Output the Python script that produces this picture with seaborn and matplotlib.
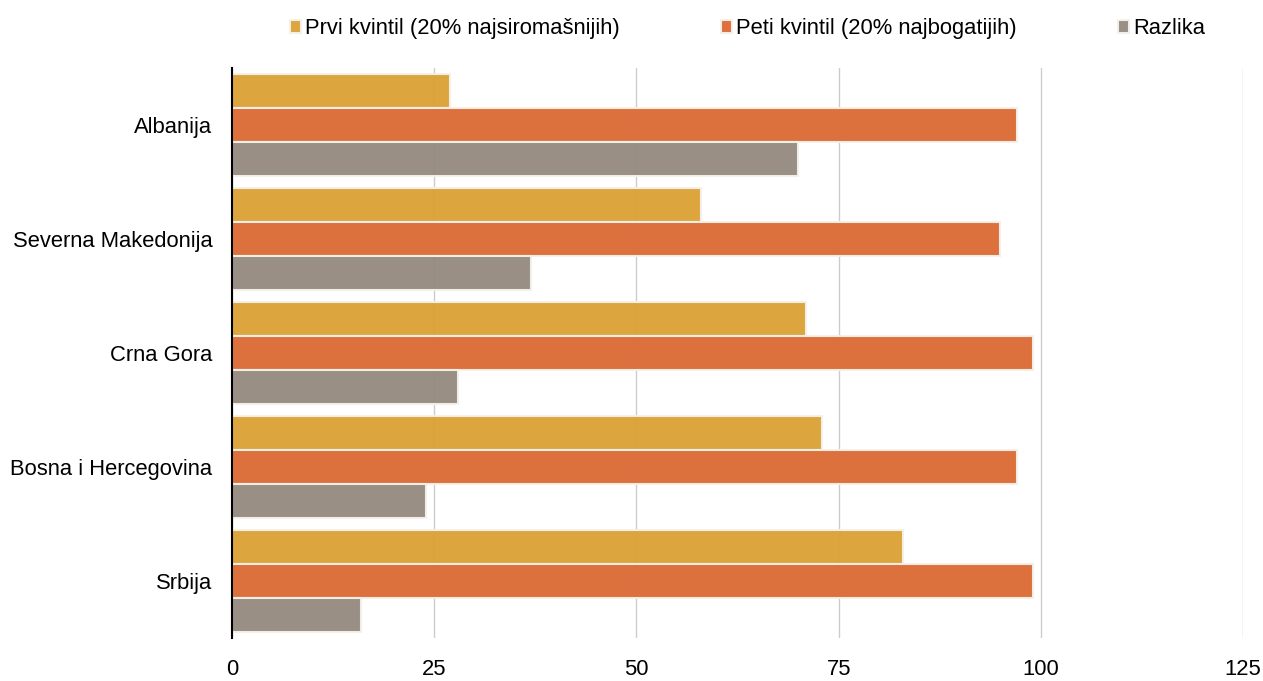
import matplotlib
matplotlib.use("Agg")
import pandas as pd
import seaborn as sns
import matplotlib.pyplot as plt

countries = ["Albanija", "Severna Makedonija", "Crna Gora", "Bosna i Hercegovina", "Srbija"]
series = ["Prvi kvintil (20% najsiromašnijih)", "Peti kvintil (20% najbogatijih)", "Razlika"]
prvi = [27, 58, 71, 73, 83]
peti = [97, 95, 99, 97, 99]
razlika = [70, 37, 28, 24, 16]
colors = ["#DBA237", "#DC6C38", "#968B80"]

sns.set_theme(style="white")
plt.rcParams['font.family'] = ['Liberation Sans', 'DejaVu Sans']

df = pd.DataFrame({
    "country": countries * 3,
    "serija": [series[0]] * 5 + [series[1]] * 5 + [series[2]] * 5,
    "value": prvi + peti + razlika,
})

fig = plt.figure(figsize=(12.63, 6.81), dpi=100)
ax = fig.add_axes([0.1837, 0.0631, 0.8005, 0.8369])

sns.barplot(data=df, x="value", y="country", hue="serija", hue_order=series,
            order=countries, palette=colors, saturation=1, orient="h", width=0.9,
            edgecolor="#f4f0ea", linewidth=1.5, alpha=0.97, ax=ax, zorder=2)

ax.set_xlim(0, 125)
ax.set_xticks([0, 25, 50, 75, 100, 125])
ax.xaxis.grid(True, color="#cccccc", linewidth=1, zorder=0)
ax.set_axisbelow(True)
for s in ["top", "right", "bottom"]:
    ax.spines[s].set_visible(False)
ax.spines["left"].set_color("black")
ax.spines["left"].set_linewidth(1.5)
ax.set_xlabel("")
ax.set_ylabel("")
ax.tick_params(axis="both", length=0, labelsize=15.8, colors="black")
ax.tick_params(axis="y", pad=14)
ax.tick_params(axis="x", pad=15)

handles, labels = ax.get_legend_handles_labels()
ax.legend(handles, labels, loc="lower center", bbox_to_anchor=(0.51, 1.035),
          ncol=3, frameon=False, fontsize=15.8, handlelength=0.5, handleheight=0.5,
          handletextpad=0.2, columnspacing=4.6, borderaxespad=0, labelcolor="black")

fig.savefig("out.png", dpi=100)
plt.close()
